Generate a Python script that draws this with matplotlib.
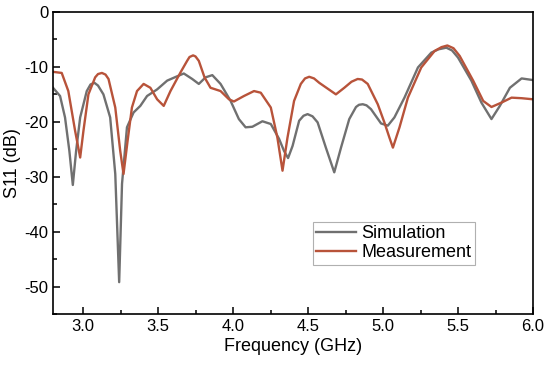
import numpy as np
import matplotlib
matplotlib.use('Agg')
import matplotlib.pyplot as plt
from matplotlib import ticker

plt.rcParams['font.family'] = ['Liberation Sans', 'DejaVu Sans']
plt.rcParams['axes.unicode_minus'] = False

# Simulation (grey)
sim_f = [2.80, 2.847, 2.880, 2.909, 2.932, 2.954, 2.981, 3.025, 3.05, 3.076,
         3.10, 3.136, 3.181, 3.215, 3.241, 3.260, 3.293, 3.337, 3.382, 3.427,
         3.494, 3.561, 3.62, 3.672, 3.728, 3.772, 3.817, 3.862, 3.917, 3.984,
         4.039, 4.084, 4.129, 4.196, 4.252, 4.307, 4.340, 4.367, 4.397, 4.441,
         4.47, 4.497, 4.53, 4.564, 4.619, 4.675, 4.720, 4.775, 4.820, 4.84,
         4.865, 4.89, 4.920, 4.987, 5.032, 5.076, 5.143, 5.233, 5.322, 5.37,
         5.422, 5.46, 5.500, 5.589, 5.656, 5.723, 5.779, 5.846, 5.924, 6.00]
sim_s11 = [-13.8, -15.3, -19.2, -25.3, -31.5, -25.3, -19.2, -14.4, -13.2, -12.9,
           -13.4, -15.0, -19.2, -29.5, -49.2, -31.3, -21.0, -18.3, -17.1, -15.3,
           -14.1, -12.5, -11.8, -11.2, -12.2, -13.1, -11.9, -11.5, -13.1, -16.2,
           -19.5, -21.0, -20.9, -19.9, -20.4, -23.1, -25.3, -26.6, -24.4, -19.8,
           -18.9, -18.6, -19.0, -20.1, -24.7, -29.2, -24.7, -19.5, -17.3, -16.9,
           -16.8, -17.0, -17.7, -20.3, -20.7, -19.2, -15.6, -10.1, -7.4, -6.8,
           -6.5, -7.0, -8.3, -12.5, -16.5, -19.5, -17.1, -13.8, -12.1, -12.4]

# Measurement (red)
meas_f = [2.80, 2.858, 2.902, 2.947, 2.981, 3.003, 3.036, 3.081, 3.10, 3.126,
          3.15, 3.170, 3.215, 3.248, 3.270, 3.297, 3.326, 3.360, 3.404, 3.449,
          3.494, 3.538, 3.583, 3.650, 3.694, 3.71, 3.734, 3.75, 3.772, 3.810,
          3.850, 3.917, 3.973, 4.006, 4.073, 4.140, 4.185, 4.252, 4.296, 4.330,
          4.363, 4.407, 4.452, 4.48, 4.508, 4.54, 4.575, 4.686, 4.742, 4.79,
          4.831, 4.86, 4.898, 4.965, 5.009, 5.043, 5.066, 5.110, 5.166, 5.255,
          5.344, 5.39, 5.429, 5.47, 5.511, 5.601, 5.668, 5.723, 5.790, 5.857,
          5.924, 6.00]
meas_s11 = [-10.9, -11.1, -14.4, -21.6, -26.5, -21.6, -15.0, -11.9, -11.3, -11.1,
            -11.4, -12.2, -17.4, -25.3, -29.5, -23.5, -17.4, -14.4, -13.1, -13.8,
            -15.9, -17.1, -14.4, -11.0, -8.9, -8.2, -7.9, -8.1, -8.9, -11.9,
            -13.8, -14.4, -15.9, -16.3, -15.3, -14.4, -14.7, -17.4, -22.9, -28.9,
            -22.9, -16.2, -13.1, -12.1, -11.8, -12.1, -12.9, -15.0, -13.8, -12.7,
            -12.2, -12.3, -13.1, -16.8, -20.1, -22.9, -24.7, -21.0, -15.6, -10.1,
            -7.1, -6.4, -6.1, -6.6, -8.0, -12.5, -16.2, -17.3, -16.5, -15.6,
            -15.7, -15.9]

fig = plt.figure(figsize=(5.5, 3.71), dpi=100)
ax = fig.add_axes([0.0964, 0.1536, 0.8727, 0.8141])

ax.plot(sim_f, sim_s11, color='#707070', lw=1.7, label='Simulation',
        solid_joinstyle='round')
ax.plot(meas_f, meas_s11, color='#b8533a', lw=1.7, label='Measurement',
        solid_joinstyle='round')

ax.set_xlim(2.8, 6.0)
ax.set_ylim(-55, 0)
ax.xaxis.set_major_locator(ticker.MultipleLocator(0.5))
ax.xaxis.set_minor_locator(ticker.MultipleLocator(0.25))
ax.yaxis.set_major_locator(ticker.MultipleLocator(10))
ax.yaxis.set_minor_locator(ticker.MultipleLocator(5))
ax.xaxis.set_major_formatter(ticker.FormatStrFormatter('%.1f'))
ax.yaxis.set_major_formatter(ticker.FormatStrFormatter('%d'))
ax.tick_params(which='both', direction='in', labelsize=12, width=1.1)
ax.tick_params(which='major', length=5)
ax.tick_params(which='minor', length=3)
for s in ax.spines.values():
    s.set_linewidth(1.2)

ax.set_xlabel('Frequency (GHz)', fontsize=13, labelpad=3)
ax.set_ylabel('S11 (dB)', fontsize=13, labelpad=2)

leg = ax.legend(loc='upper left', bbox_to_anchor=(0.541, 0.306), borderaxespad=0,
                fontsize=13, fancybox=False, handlelength=2.2, handletextpad=0.3,
                borderpad=0.2, labelspacing=0.1, framealpha=1)
leg.get_frame().set_edgecolor('#b0b0b0')
leg.get_frame().set_linewidth(0.8)

fig.savefig('out.png', dpi=100)
